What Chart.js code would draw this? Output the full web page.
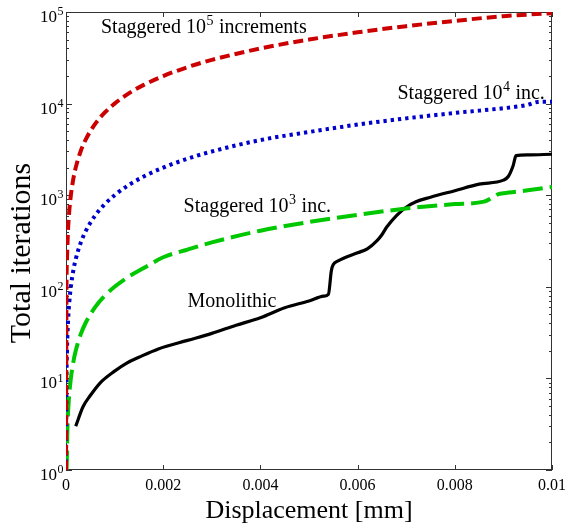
<!DOCTYPE html>
<html>
<head>
<meta charset="utf-8">
<script src="https://cdn.jsdelivr.net/npm/chart.js@4.4.1/dist/chart.umd.min.js"></script>
<style>
  html, body { margin: 0; padding: 0; background: #fff; }
  canvas { display: block; }
</style>
</head>
<body>
<canvas id="myChart" width="565" height="531"></canvas>
<script>
'use strict'

// values (x in mm, y = total iterations)
const stag5X = [0, 0.00001, 0.00002, 0.00004, 0.00007, 0.0001, 0.00015, 0.0002, 0.0003, 0.0004, 0.0006, 0.0008, 0.001, 0.0013, 0.0016, 0.002, 0.0025, 0.003, 0.004, 0.005, 0.006, 0.007, 0.008, 0.009, 0.01];
const stag5Y = [1, 100, 200, 400, 700, 1000, 1500, 2000, 3000, 4000, 6000, 8000, 10000, 13000, 16000, 20000, 25000, 30000, 40000, 50000, 60000, 70000, 80000, 90000, 97000];

const stag4X = [0, 0.00001, 0.00002, 0.00004, 0.00007, 0.0001, 0.00015, 0.0002, 0.0003, 0.0004, 0.0006, 0.0008, 0.001, 0.0013, 0.0016, 0.002, 0.0025, 0.003, 0.004, 0.005, 0.006, 0.007, 0.008, 0.009, 0.0093, 0.0095, 0.0097, 0.01];
const stag4Y = [1, 10, 20, 40, 70, 100, 150, 200, 300, 400, 600, 800, 1000, 1300, 1600, 2000, 2500, 3000, 4000, 4900, 5900, 6900, 7900, 8900, 9300, 9700, 10400, 10500];

const stag3X = [0, 0.00001, 0.00003, 0.00006, 0.0001, 0.00015, 0.0002, 0.0003, 0.0004, 0.0006, 0.0008, 0.001, 0.0013, 0.0016, 0.002, 0.0025, 0.003, 0.004, 0.005, 0.006, 0.007, 0.008, 0.0086, 0.0088, 0.0089, 0.009, 0.0095, 0.01];
const stag3Y = [1, 1, 3, 6, 10, 15, 20, 30, 40, 60, 80, 100, 130, 160, 210, 255, 305, 410, 510, 610, 715, 800, 850, 960, 1030, 1050, 1130, 1230];

const monoX = [0.0002, 0.00035, 0.0005, 0.0007, 0.001, 0.00125, 0.0015, 0.0019, 0.0025, 0.003, 0.0035, 0.004, 0.0045, 0.005, 0.0053, 0.0054, 0.00546, 0.0055, 0.0056, 0.006, 0.0062, 0.0064, 0.0065, 0.0066, 0.0068, 0.007, 0.0072, 0.0075, 0.008, 0.0085, 0.009, 0.0091, 0.0092, 0.00926, 0.0095, 0.01];
const monoY = [3.0, 4.9, 6.5, 8.9, 12, 14.7, 17, 21, 26, 31, 38, 46, 59, 70, 79, 83, 150, 175, 192, 235, 260, 320, 370, 450, 600, 740, 850, 950, 1120, 1320, 1460, 1600, 2100, 2700, 2750, 2800];

const xTickValues = [0, 0.002, 0.004, 0.006, 0.008, 0.01];
const xTickLabels = ['0', '0.002', '0.004', '0.006', '0.008', '0.01'];
const yTickValues = [1, 10, 100, 1000, 10000, 100000];
const yTickExps = ['0', '1', '2', '3', '4', '5'];

// curve labels: [text before exponent, exponent, text after, x, y] (data coords, left / baseline)
const curveLabels = [
    ['Staggered 10', '5', ' increments', 0.00072, 59000],
    ['Staggered 10', '4', ' inc.', 0.00682, 11200],
    ['Staggered 10', '3', ' inc.', 0.00242, 660],
    ['Monolithic', '', '', 0.0025, 60]
];

const SERIF = '"Liberation Serif", "DejaVu Serif", serif';

function pts(xs, ys) {
    return xs.map((x, i) => ({x: x, y: ys[i]}));
}

// draws "10" with a raised exponent, returns width
function drawPow(ctx, base, exp, x, y, size, align) {
    ctx.font = size + 'px ' + SERIF;
    let wb = ctx.measureText(base).width;
    ctx.font = Math.round(size * 0.7) + 'px ' + SERIF;
    let we = ctx.measureText(exp).width;
    let x0 = align === 'right' ? x - wb - we : x;
    ctx.textAlign = 'left';
    ctx.font = size + 'px ' + SERIF;
    ctx.fillText(base, x0, y);
    ctx.font = Math.round(size * 0.7) + 'px ' + SERIF;
    ctx.fillText(exp, x0 + wb + 0.5, y - size * 0.4);
    return wb + we + 1;
}

const frame = {
    id: 'frame',
    beforeDatasetsDraw(chart) {
        const ctx = chart.ctx;
        const a = chart.chartArea;
        const xs = chart.scales.x, ys = chart.scales.y;
        ctx.save();
        ctx.strokeStyle = '#333';
        ctx.lineWidth = 1;
        ctx.strokeRect(a.left + 0.5, a.top + 0.5, a.right - a.left - 1, a.bottom - a.top - 1);
        ctx.beginPath();
        // x ticks, bottom and top, pointing in
        xTickValues.forEach(v => {
            let px = Math.round(xs.getPixelForValue(v)) + 0.5;
            ctx.moveTo(px, a.bottom); ctx.lineTo(px, a.bottom - 5);
            ctx.moveTo(px, a.top); ctx.lineTo(px, a.top + 5);
        });
        // y ticks, major and minor, left and right
        for (let d = 1; d <= 100000; d *= 10) {
            let py = Math.round(ys.getPixelForValue(d)) + 0.5;
            ctx.moveTo(a.left, py); ctx.lineTo(a.left + 6, py);
            ctx.moveTo(a.right, py); ctx.lineTo(a.right - 6, py);
            if (d < 100000) {
                for (let k = 2; k <= 9; k++) {
                    let pm = Math.round(ys.getPixelForValue(d * k)) + 0.5;
                    ctx.moveTo(a.left, pm); ctx.lineTo(a.left + 3, pm);
                    ctx.moveTo(a.right, pm); ctx.lineTo(a.right - 3, pm);
                }
            }
        }
        ctx.stroke();
        ctx.restore();
    },
    afterDraw(chart) {
        const ctx = chart.ctx;
        const a = chart.chartArea;
        const xs = chart.scales.x, ys = chart.scales.y;
        ctx.save();
        ctx.fillStyle = '#000';
        ctx.textBaseline = 'alphabetic';

        // tick labels
        ctx.font = '16px ' + SERIF;
        ctx.textAlign = 'center';
        xTickValues.forEach((v, i) => {
            ctx.fillText(xTickLabels[i], xs.getPixelForValue(v), a.bottom + 20);
        });
        yTickValues.forEach((v, i) => {
            drawPow(ctx, '10', yTickExps[i], a.left - 3, ys.getPixelForValue(v) + 10, 17, 'right');
        });

        // axis titles
        ctx.font = '26px ' + SERIF;
        ctx.textAlign = 'center';
        ctx.fillText('Displacement [mm]', (a.left + a.right) / 2, 518);
        ctx.save();
        ctx.translate(30, 253);
        ctx.rotate(-Math.PI / 2);
        ctx.font = '30px ' + SERIF;
        ctx.fillText('Total iterations', 0, 0);
        ctx.restore();

        // curve labels
        curveLabels.forEach(l => {
            let x = xs.getPixelForValue(l[3]);
            let y = ys.getPixelForValue(l[4]);
            ctx.font = '20px ' + SERIF;
            ctx.textAlign = 'left';
            let w = 0;
            if (l[1]) {
                w = drawPow(ctx, l[0], l[1], x, y, 20, 'left');
            } else {
                ctx.fillText(l[0], x, y);
                w = ctx.measureText(l[0]).width;
            }
            if (l[2]) {
                ctx.font = '20px ' + SERIF;
                ctx.textAlign = 'left';
                ctx.fillText(l[2], x + w, y);
            }
        });
        ctx.restore();
    }
};

const ctx = document.getElementById('myChart').getContext('2d');

new Chart(ctx, {
    type: 'line',
    data: {
        datasets: [{
            label: 'Staggered 10^5 increments',
            data: pts(stag5X, stag5Y),
            borderColor: 'rgb(204, 0, 0)',
            borderWidth: 4,
            borderDash: [10, 5]
        }, {
            label: 'Staggered 10^4 inc.',
            data: pts(stag4X, stag4Y),
            borderColor: 'rgb(0, 0, 204)',
            borderWidth: 4,
            borderDash: [3.3, 4]
        }, {
            label: 'Staggered 10^3 inc.',
            data: pts(stag3X, stag3Y),
            borderColor: 'rgb(0, 200, 0)',
            borderWidth: 4,
            borderDash: [20, 7]
        }, {
            label: 'Monolithic',
            data: pts(monoX, monoY),
            borderColor: '#000',
            borderWidth: 3.2
        }]
    },
    options: {
        responsive: false,
        animation: false,
        layout: { padding: { top: 12, right: 13, left: 0, bottom: 0 } },
        elements: {
            point: { radius: 0 },
            line: { cubicInterpolationMode: 'monotone', fill: false, borderJoinStyle: 'round' }
        },
        plugins: {
            legend: { display: false },
            tooltip: { enabled: false }
        },
        scales: {
            x: {
                type: 'linear',
                min: 0,
                max: 0.01,
                grid: { display: false },
                border: { display: false },
                ticks: { display: false },
                afterFit: s => { s.height = 61; }
            },
            y: {
                type: 'logarithmic',
                min: 1,
                max: 100000,
                grid: { display: false },
                border: { display: false },
                ticks: { display: false },
                afterFit: s => { s.width = 66; }
            }
        }
    },
    plugins: [frame]
});
</script>
</body>
</html>
